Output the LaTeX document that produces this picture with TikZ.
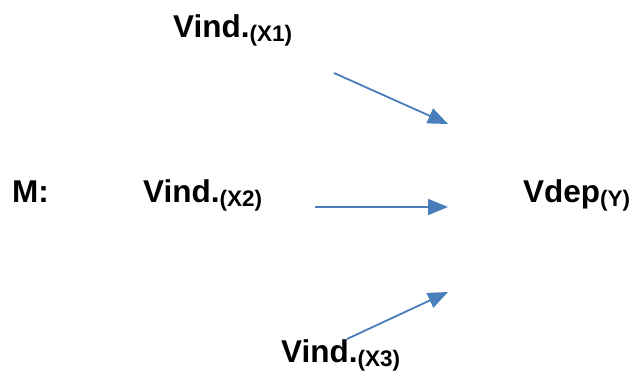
\documentclass[tikz,border=0pt]{standalone}
\usepackage{fontspec}
\setmainfont{Liberation Sans}
\usetikzlibrary{arrows.meta}
\definecolor{arrblue}{RGB}{74,126,187}
\newcommand{\subsc}[1]{{\fontsize{22.5}{23}\selectfont\raisebox{-4pt}{#1}}}
\tikzset{
  lbl/.style={anchor=base west, inner sep=0pt, font=\fontsize{31.5}{33}\selectfont\bfseries},
  arr/.style={draw=arrblue, line width=1.8pt, -{Triangle[length=20pt,width=16pt]}}
}
\begin{document}
\begin{tikzpicture}[x=1pt,y=1pt]
\useasboundingbox (0,0) rectangle (629,371);
\node[lbl] (x1) at (173,333) {Vind.\subsc{(X1)}};
\node[lbl] (m) at (12,168) {M:};
\node[lbl] (x2) at (143,168) {Vind.\subsc{(X2)}};
\node[lbl] (y) at (523,168) {Vdep\subsc{(Y)}};
\node[lbl] (x3) at (281,8) {Vind.\subsc{(X3)}};
\coordinate (a1s) at (334,298);
\coordinate (a1e) at (448,247);
\coordinate (a2s) at (315,164);
\coordinate (a2e) at (448,164);
\coordinate (a3s) at (347,32);
\coordinate (a3e) at (448,79);
\draw[arr] (a1s) -- (a1e);
\draw[arr] (a2s) -- (a2e);
\draw[arr] (a3s) -- (a3e);
\end{tikzpicture}
\end{document}
